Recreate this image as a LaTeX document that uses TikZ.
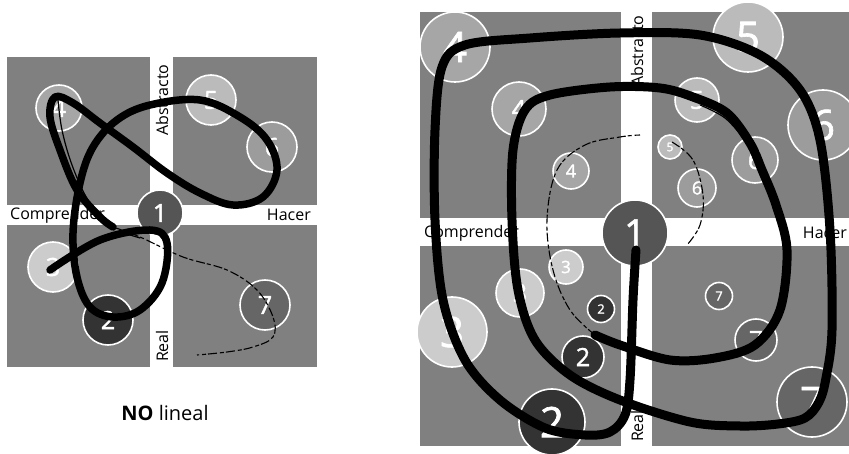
\documentclass[tikz,border=0pt]{standalone}
\usepackage{fontspec}
\setmainfont{Open Sans}
\newfontfamily\numfont[FakeBold=1.6]{Open Sans}
\definecolor{quad}{HTML}{808080}
\definecolor{cA}{HTML}{555555}
\definecolor{cB}{HTML}{333333}
\definecolor{cC}{HTML}{CCCCCC}
\definecolor{cD}{HTML}{A6A6A6}
\definecolor{cE}{HTML}{BBBBBB}
\definecolor{cF}{HTML}{9C9C9C}
\definecolor{cG}{HTML}{666666}
\newcommand{\fs}[1]{\fontsize{#1}{#1}\selectfont}
\newcommand{\nf}[1]{\numfont\fontsize{#1}{#1}\selectfont}
\tikzset{
  quadbox/.style={fill=quad, draw=none},
  num/.style 2 args={circle, fill=#1, draw=white, line width=1.6pt, minimum size=#2, inner sep=0pt, text=white},
  axislbl/.style={font=\fs{16}, inner sep=0pt, text=black},
  brush/.style={line width=7.5pt, line cap=round, line join=round, black},
  brushedge/.style={line width=1.2pt, line cap=round, black},
  thinbrush/.style={line width=1.1pt, black, dash pattern=on 9pt off 2pt on 4pt off 3pt},
}
\begin{document}
\begin{tikzpicture}[x=1pt,y=-1pt]
\useasboundingbox[fill=white] (0,0) rectangle (849,454);
% ---------- left diagram ----------
\fill[quad] (7,57) rectangle (150,205);
\fill[quad] (173,57) rectangle (317,205);
\fill[quad] (7,225) rectangle (150,367);
\fill[quad] (173,225) rectangle (317,367);
\node[axislbl, anchor=west] (lc) at (10,215) {Comprender};
\node[axislbl, anchor=east] (lh) at (311,215) {Hacer};
\node[axislbl, rotate=90] (la) at (162,100) {Abstracto};
\node[axislbl, rotate=90] (lr) at (162,346) {Real};
\node[num={cD}{46pt}, font=\nf{25}] (l4) at (59,108) {4};
\node[num={cE}{50pt}, font=\nf{25}] (l5) at (211,100) {5};
\node[num={cF}{50pt}, font=\nf{25}] (l6) at (272,147) {6};
\node[num={cC}{50pt}, font=\nf{25}] (l3) at (53,267) {3};
\node[num={cB}{50pt}, font=\nf{25}] (l2) at (108,320) {2};
\node[num={cG}{50pt}, font=\nf{25}] (l7) at (265,305) {7};
\node[num={cA}{46pt}, font=\nf{25}] (l1) at (160,213) {1};
\draw[brush] plot[smooth, tension=0.6] coordinates {(50,270) (100,240) (150,230) (167,243) (162,283) (140,310) (113,317) (90,307) (77,277) (73,233) (80,183) (93,147) (117,120) (150,105) (200,100) (240,117) (267,140) (277,170) (263,197) (233,205) (200,193) (167,173) (133,147) (100,123) (73,103) (55,97) (50,117) (60,150) (77,190) (100,217) (113,227)};
\draw[brushedge] plot[smooth, tension=0.6] coordinates {(58,100) (62,130) (72,165) (88,200) (108,222)};
\draw[brushedge] plot[smooth, tension=0.6] coordinates {(120,232) (140,238)};
\draw[thinbrush] plot[smooth, tension=0.6] coordinates {(113,227) (140,237) (183,257) (227,270) (257,290) (273,317) (273,337) (253,347) (227,352) (197,355)};
% ---------- right diagram ----------
\fill[quad] (420,12) rectangle (621,218);
\fill[quad] (652,12) rectangle (849,218);
\fill[quad] (420,246) rectangle (621,446);
\fill[quad] (652,246) rectangle (849,446);
\node[axislbl, anchor=west] (rc) at (424,233) {Comprender};
\node[axislbl, anchor=east] (rh) at (847,233) {Hacer};
\node[axislbl, rotate=90] (ra) at (637,51) {Abstracto};
\node[axislbl, rotate=90] (rr) at (637,426) {Real};
% big ring
\node[num={cD}{70pt}, font=\nf{42}] (r4a) at (455,47) {4};
\node[num={cE}{70pt}, font=\nf{42}] (r5a) at (748,37) {5};
\node[num={cF}{70pt}, font=\nf{42}] (r6a) at (823,125) {6};
\node[num={cC}{70pt}, font=\nf{42}] (r3a) at (452,332) {3};
\node[num={cB}{66pt}, font=\nf{42}] (r2a) at (552,422) {2};
\node[num={cG}{70pt}, font=\nf{42}] (r7a) at (812,402) {7};
% medium ring
\node[num={cD}{54pt}, font=\nf{25}] (r4b) at (519,109) {4};
\node[num={cE}{44pt}, font=\nf{25}] (r5b) at (697,100) {5};
\node[num={cF}{46pt}, font=\nf{25}] (r6b) at (755,160) {6};
\node[num={cC}{48pt}, font=\nf{25}] (r3b) at (520,293) {3};
\node[num={cB}{42pt}, font=\nf{25}] (r2b) at (583,357) {2};
\node[num={cG}{42pt}, font=\nf{25}] (r7b) at (756,340) {7};
% small ring
\node[num={cD}{36pt}, font=\nf{18}] (r4c) at (571,171) {4};
\node[num={cE}{24pt}, font=\nf{12}] (r5c) at (670,147) {5};
\node[num={cF}{38pt}, font=\nf{18}] (r6c) at (697,188) {6};
\node[num={cC}{34pt}, font=\nf{17}] (r3c) at (566,267) {3};
\node[num={cB}{27pt}, font=\nf{13}] (r2c) at (601,309) {2};
\node[num={cG}{27pt}, font=\nf{13}] (r7c) at (719,296) {7};
\node[num={cA}{66pt}, font=\nf{38}] (r1) at (635,233) {1};
\draw[brush, line width=9pt] plot[smooth, tension=0.55] coordinates {(636,250) (633,300) (630,380) (625,415) (610,432) (585,435) (545,428) (500,400) (465,360) (443,300) (435,220) (435,130) (442,67) (465,45) (530,38) (620,33) (700,35) (760,55) (800,90) (820,140) (830,230) (832,330) (826,378) (819,402) (805,418) (778,424) (740,426) (690,422) (620,400) (570,375) (535,340) (518,290) (512,220) (513,150) (525,110) (550,95) (610,87) (660,88) (693,97) (727,113) (750,143) (762,170) (776,205) (787,250) (780,310) (755,345) (715,358) (670,360) (620,345) (595,335)};
\draw[brushedge] plot[smooth, tension=0.6] coordinates {(445,60) (470,42) (540,35) (620,31)};
\draw[brushedge] plot[smooth, tension=0.6] coordinates {(700,105) (725,118) (745,140)};
\draw[thinbrush] plot[smooth, tension=0.6] coordinates {(595,335) (570,310) (553,270) (547,220) (557,170) (585,145) (620,137) (640,135)};
\draw[thinbrush] plot[smooth, tension=0.6] coordinates {(672,142) (693,160) (703,195) (700,225) (687,245)};
% caption
\node[font=\fs{20}, inner sep=0pt] (cap) at (165,413) {\textbf{NO} lineal};
\end{tikzpicture}
\end{document}
